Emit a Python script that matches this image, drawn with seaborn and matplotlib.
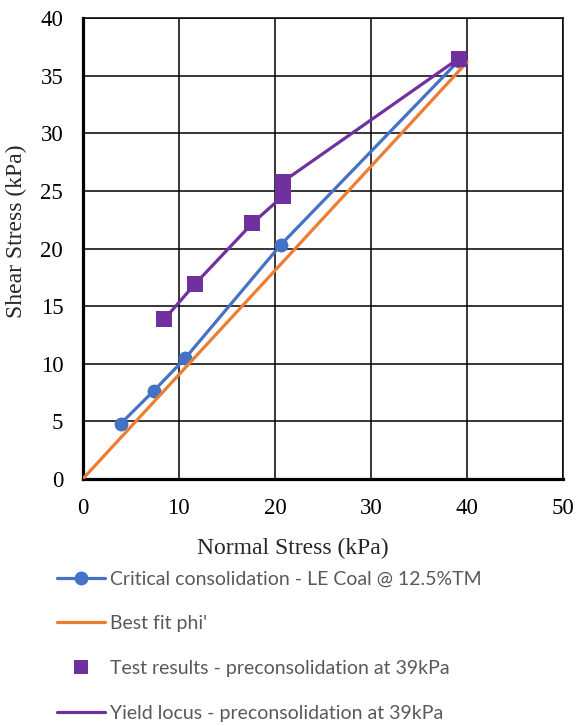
import matplotlib
matplotlib.use("Agg")
import matplotlib.pyplot as plt
from matplotlib.lines import Line2D
import seaborn as sns
import numpy as np

# Critical consolidation - LE Coal @ 12.5%TM
crit_x = [3.95, 7.42, 10.65, 20.6, 39.1]
crit_y = [4.8, 7.68, 10.47, 20.33, 36.3]

# Best fit phi'
fit_x = [0.0, 40.0]
fit_y = [0.0, 36.2]

# Test results / yield locus - preconsolidation at 39kPa
test_x = [8.49, 11.65, 17.65, 20.8, 20.8, 39.1]
test_y = [13.87, 16.9, 22.2, 24.55, 25.8, 36.5]

labels = [
    "Critical consolidation - LE Coal @ 12.5%TM",
    "Best fit phi'",
    "Test results - preconsolidation at 39kPa",
    "Yield locus - preconsolidation at 39kPa",
]

BLUE = "#4472C4"
ORANGE = "#ED7D31"
PURPLE = "#7030A0"

sns.set_style("white")
plt.rcParams["font.family"] = ["Liberation Serif", "DejaVu Serif"]

fig = plt.figure(figsize=(5.77, 7.26), dpi=100)
ax = fig.add_axes([0.1433, 0.3402, 0.8330, 0.6346])

lw = 2.3
sns.lineplot(x=crit_x, y=crit_y, ax=ax, color=BLUE, lw=lw, marker="o",
             markersize=10, markeredgewidth=0, sort=False, estimator=None, zorder=3)
sns.lineplot(x=fit_x, y=fit_y, ax=ax, color=ORANGE, lw=lw,
             sort=False, estimator=None, zorder=3)
sns.lineplot(x=test_x, y=test_y, ax=ax, color=PURPLE, lw=lw,
             sort=False, estimator=None, zorder=4)
sns.scatterplot(x=test_x, y=test_y, ax=ax, color=PURPLE, marker="s",
                s=130, linewidth=0, zorder=5)

ax.set_xlim(0, 50)
ax.set_ylim(0, 40)
ax.set_xticks(np.arange(0, 51, 10))
ax.set_yticks(np.arange(0, 41, 5))
ax.grid(True, color="black", lw=1.1)
ax.set_axisbelow(True)
for side in ["top", "right"]:
    ax.spines[side].set_linewidth(1.1)
    ax.spines[side].set_color("black")
for side in ["left", "bottom"]:
    ax.spines[side].set_linewidth(2.3)
    ax.spines[side].set_color("black")
ax.tick_params(axis="both", length=0, labelsize=16.5, pad=14, colors="black")

ax.set_xlabel("Normal Stress (kPa)", fontsize=17)
ax.set_ylabel("Shear Stress (kPa)", fontsize=17)
ax.xaxis.set_label_coords(0.4365, -0.128)
ax.yaxis.set_label_coords(-0.116, 0.538)

handles = [
    Line2D([], [], color=BLUE, lw=lw, marker="o", markersize=10, markeredgewidth=0),
    Line2D([], [], color=ORANGE, lw=lw),
    Line2D([], [], color=PURPLE, lw=0, marker="s", markersize=10, markeredgewidth=0),
    Line2D([], [], color=PURPLE, lw=lw),
]
leg = fig.legend(handles, labels, loc="upper left", bbox_to_anchor=(0.085, 0.225),
                 frameon=False, handlelength=2.5, handletextpad=0.25,
                 labelspacing=1.43, borderaxespad=0,
                 prop={"family": ["Lato", "DejaVu Sans"], "size": 14})
for t in leg.get_texts():
    t.set_color("#595959")

fig.savefig("out.png", dpi=100)
